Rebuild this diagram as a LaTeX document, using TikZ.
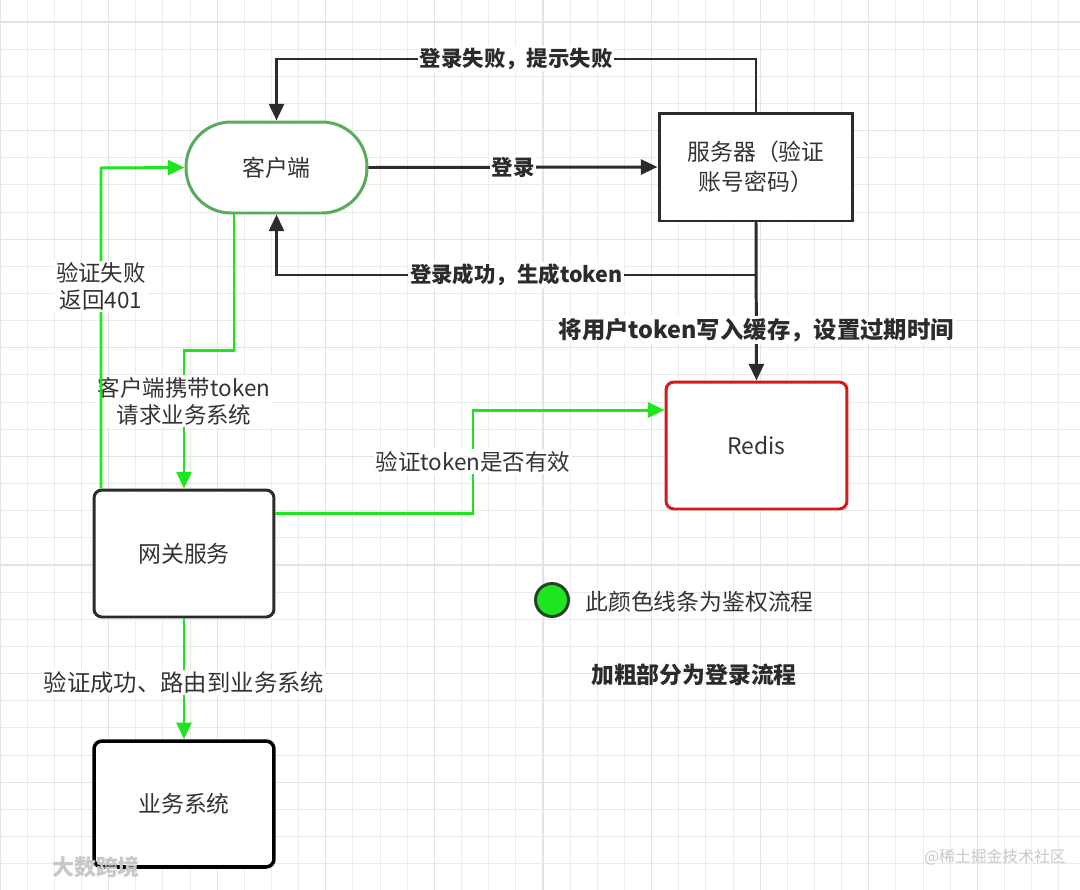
\documentclass[tikz,border=0pt]{standalone}
\usepackage{fontspec}
\setmainfont{Noto Sans CJK SC}
\usetikzlibrary{arrows.meta}
\definecolor{txt}{HTML}{333333}
\definecolor{lnk}{HTML}{2B2B2B}
\definecolor{grn}{RGB}{30,230,30}
\definecolor{cgreen}{RGB}{90,170,90}
\definecolor{rred}{RGB}{215,25,25}
\definecolor{gridminor}{HTML}{EBEBEB}
\definecolor{gridmajor}{HTML}{E3E3E3}
\definecolor{wm}{HTML}{C8C8C8}
\tikzset{
  box/.style={draw=lnk, line width=1.7pt, fill=white, text=txt,
    font=\fontsize{13}{17}\selectfont, align=center, inner sep=0pt},
  blackline/.style={draw=lnk, line width=1.7pt},
  greenline/.style={draw=grn, line width=1.7pt},
  tip/.style={-{Triangle[length=9.5pt,width=8.5pt]}},
  boldlbl/.style={fill=white, text=lnk, font=\bfseries\fontsize{12.2}{15}\selectfont, inner sep=1pt},
  lbl/.style={fill=white, text=txt, font=\fontsize{12.8}{15.5}\selectfont, align=center, inner sep=1pt},
}
\begin{document}
\begin{tikzpicture}[x=0.02cm,y=-0.02cm]
\useasboundingbox (0,0) rectangle (1080,890);
\fill[white] (0,0) rectangle (1080,890);
% grid
\foreach \i in {0,...,40} \draw[gridminor, line width=0.6pt] ({\i*27.15},0) -- ({\i*27.15},890);
\foreach \i in {-1,...,32} \draw[gridminor, line width=0.6pt] (0,{22+\i*27.15}) -- (1080,{22+\i*27.15});
\foreach \i in {0,...,10} \draw[gridmajor, line width=0.7pt] ({\i*108.6},0) -- ({\i*108.6},890);
\foreach \i in {0,...,8} \draw[gridmajor, line width=0.7pt] (0,{22+\i*108.6}) -- (1080,{22+\i*108.6});

% nodes
\node[box, draw=cgreen, rounded corners=0.9cm, minimum width=3.62cm, minimum height=1.82cm] (client) at (276.5,167.5) {客户端};
\node[box, minimum width=3.88cm, minimum height=2.16cm] (server) at (756,167) {服务器（验证\\账号密码）};
\node[box, draw=rred, rounded corners=0.16cm, minimum width=3.62cm, minimum height=2.54cm] (redis) at (756.5,445.5) {Redis};
\node[box, rounded corners=0.16cm, minimum width=3.6cm, minimum height=2.54cm] (gateway) at (184,553.5) {网关服务};
\node[box, draw=black, line width=2pt, rounded corners=0.16cm, minimum width=3.6cm, minimum height=2.52cm] (biz) at (184,804) {业务系统};

% helper coordinates
\coordinate (tr) at (756,59);
\coordinate (tl) at (276.5,59);
\coordinate (br) at (756,275);
\coordinate (bl) at (276.5,275);
\coordinate (g1) at (234,350);
\coordinate (g2) at (184,350);
\coordinate (f1) at (101,168);
\coordinate (r1) at (473,513);
\coordinate (r2) at (473,410);

% black login flow
\draw[blackline,tip] (server.north) -- (tr) -- node[boldlbl]{登录失败，提示失败} (tl) -- (client.north);
\draw[blackline,tip] (client.east) -- node[boldlbl]{登录} (server.west);
\draw[blackline,tip] (server.south) -- (br) -- node[boldlbl]{登录成功，生成token} (bl) -- (client.south);
\draw[blackline,tip] (server.south) -- node[boldlbl,pos=0.68,font=\bfseries\fontsize{13.3}{16}\selectfont]{将用户token写入缓存，设置过期时间} (redis.north);

% green auth flow
\draw[greenline,tip] (client.south -| g1) -- (g1) -- (g2) -- node[lbl,pos=0.37]{客户端携带token\\请求业务系统} (gateway.north);
\draw[greenline,tip] (gateway.north -| f1) -- node[lbl,pos=0.63]{验证失败\\返回401} (f1) -- (client.west);
\draw[greenline,tip] (gateway.east |- r1) -- (r1) -- node[lbl]{验证token是否有效} (r2) -- (redis.west |- r2);
\draw[greenline,tip] (gateway.south) -- node[lbl,pos=0.53,font=\fontsize{13.3}{16}\selectfont]{验证成功、路由到业务系统} (biz.north);

% legend
\node[circle, draw=lnk!90!green, line width=1.7pt, fill=grn, minimum size=0.66cm, inner sep=0pt] (legdot) at (552,600) {};
\node[anchor=west, text=txt, font=\fontsize{13}{16}\selectfont, inner sep=0pt] (legtext) at (585,602) {此颜色线条为鉴权流程};
\node[text=lnk, font=\bfseries\fontsize{13}{16}\selectfont, inner sep=0pt] (boldnote) at (694,675) {加粗部分为登录流程};

% watermarks
\node[text=wm, font=\fontsize{9}{11}\selectfont, inner sep=0pt] (wm1) at (995,857) {@稀土掘金技术社区};
\node[text=wm, font=\bfseries\fontsize{12.5}{14}\selectfont, inner sep=0pt] (wm2) at (96,867) {大数跨境};
\end{tikzpicture}
\end{document}
